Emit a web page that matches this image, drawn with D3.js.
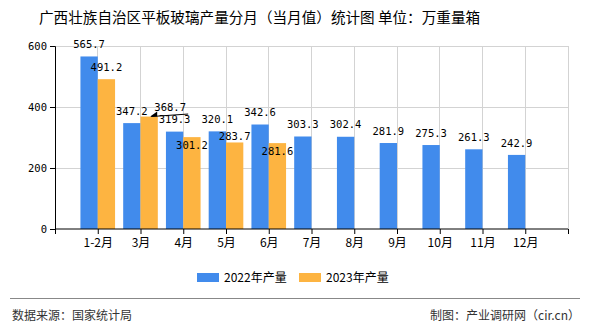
<!DOCTYPE html>
<html><head><meta charset="utf-8">
<script src="https://cdn.jsdelivr.net/npm/d3@7"></script>
<style>body{margin:0;background:#fff}svg{display:block}</style>
</head><body>
<svg id="c" width="590" height="330"></svg>
<script>
const categories = ["1-2月","3月","4月","5月","6月","7月","8月","9月","10月","11月","12月"];
const values2022 = [565.7,347.2,319.3,320.1,342.6,303.3,302.4,281.9,275.3,261.3,242.9];
const values2023 = [491.2,368.7,301.2,283.7,281.6];
const seriesNames = ["2022年产量","2023年产量"];
const yTicks = [0,200,400,600];
const title = "广西壮族自治区平板玻璃产量分月（当月值）统计图 单位：万重量箱";
const sourceText = "数据来源：国家统计局";
const creditText = "制图：产业调研网（cir.cn）";

const colors = ["#418bec","#fdb441"];
// label nudges (layout only): [dx, dy from default]
const labelNudge2023 = {1:[21,3], 3:[0,6], 2:[0,20], 4:[0,20]};

const svg = d3.select("#c");
const cjk = "'Noto Sans CJK SC','Noto Sans',sans-serif";
const mono = "'DejaVu Sans Mono','Liberation Mono',monospace";

const x = d3.scaleLinear().domain([0, categories.length + 1]).range([55, 568]);
const y = d3.scaleLinear().domain([0, 600]).range([229, 46]);
const slot = x(1) - x(0);
const bw = slot * 0.405;

// grid
const g = svg.append("g");
g.selectAll(".hg").data(yTicks.filter(d => d > 0)).enter().append("line")
  .attr("x1", 55).attr("x2", 568).attr("y1", d => y(d)).attr("y2", d => y(d))
  .attr("stroke", "#d3d3d3").attr("stroke-width", 1).attr("shape-rendering","crispEdges");
g.selectAll(".vg").data(d3.range(1, categories.length + 2)).enter().append("line")
  .attr("x1", d => x(d)).attr("x2", d => x(d)).attr("y1", y(600)).attr("y2", y(0))
  .attr("stroke", "#d3d3d3").attr("stroke-width", 1).attr("shape-rendering","crispEdges");

// bars 2022
svg.append("g").selectAll("rect").data(values2022).enter().append("rect")
  .attr("x", (d,i) => x(i+1) - bw).attr("width", bw)
  .attr("y", d => y(d)).attr("height", d => y(0) - y(d))
  .attr("fill", colors[0]);
// bars 2023
svg.append("g").selectAll("rect").data(values2023).enter().append("rect")
  .attr("x", (d,i) => x(i+1)).attr("width", bw)
  .attr("y", d => y(d)).attr("height", d => y(0) - y(d))
  .attr("fill", colors[1]);

// axes
const yAxis = d3.axisLeft(y).tickValues(yTicks).tickSize(5).tickPadding(3);
const ya = svg.append("g").attr("transform","translate(55,0)").call(yAxis);
ya.select(".domain").attr("stroke","#000");
ya.selectAll(".tick line").attr("stroke","#000");
ya.selectAll("text").attr("font-family", mono).attr("font-size","10.5px").attr("fill","#000");

const xAxis = d3.axisBottom(x).tickValues(d3.range(0, categories.length + 2)).tickSize(5).tickPadding(4)
  .tickFormat(d => (d >= 1 && d <= categories.length) ? categories[d-1] : "");
const xa = svg.append("g").attr("transform","translate(0,229)").call(xAxis);
xa.select(".domain").attr("stroke","#000").attr("d","M55,0H568");
xa.selectAll(".tick line").attr("stroke","#000");
xa.selectAll("text").attr("font-family", cjk).attr("font-size","12px").attr("fill","#000");

// data labels
const lab = svg.append("g").attr("font-family", mono).attr("font-size","10.5px").attr("fill","#000").attr("text-anchor","middle");
values2022.forEach((v,i) => {
  lab.append("text").attr("x", x(i+1) - bw/2).attr("y", y(v) - 12).attr("dy","0.35em").text(v.toFixed(1));
});
values2023.forEach((v,i) => {
  const n = labelNudge2023[i] || [0,0];
  const cx = x(i+1) + bw/2;
  lab.append("text").attr("x", cx + n[0]).attr("y", y(v) - 12 + n[1]).attr("dy","0.35em").text(v.toFixed(1));
  if (i === 1) {
    const ty = y(v);
    svg.append("line").attr("x1", cx + 2).attr("y1", ty).attr("x2", cx + n[0] + 18).attr("y2", ty - 2.5)
      .attr("stroke","#000").attr("stroke-width",1);
    svg.append("path").attr("d", `M${cx+1},${ty} l7,-5 l0,5 z`).attr("fill","#000");
  }
});

// title
svg.append("text").attr("x", 39).attr("y", 23).attr("font-family", cjk).attr("font-size","14.6px")
  .attr("fill","#000").text(title);

// legend
const lg = svg.append("g").attr("font-family", cjk).attr("font-size","12px").attr("fill","#000");
[[197,224],[299,326]].forEach((p,i) => {
  lg.append("rect").attr("x", p[0]).attr("y", 273).attr("width", 22).attr("height", 9).attr("fill", colors[i]);
  lg.append("text").attr("x", p[1]).attr("y", 278).attr("dy","0.35em").text(seriesNames[i]);
});

// footer
svg.append("line").attr("x1", 10).attr("x2", 580).attr("y1", 298.5).attr("y2", 298.5).attr("stroke","#888").attr("stroke-width",1);
svg.append("text").attr("x", 12).attr("y", 316).attr("dy","0.35em").attr("font-family", cjk).attr("font-size","12px").attr("fill","#333").text(sourceText);
svg.append("text").attr("x", 580).attr("y", 316).attr("dy","0.35em").attr("text-anchor","end").attr("font-family", cjk).attr("font-size","12px").attr("fill","#333").text(creditText);
</script>
</body></html>
